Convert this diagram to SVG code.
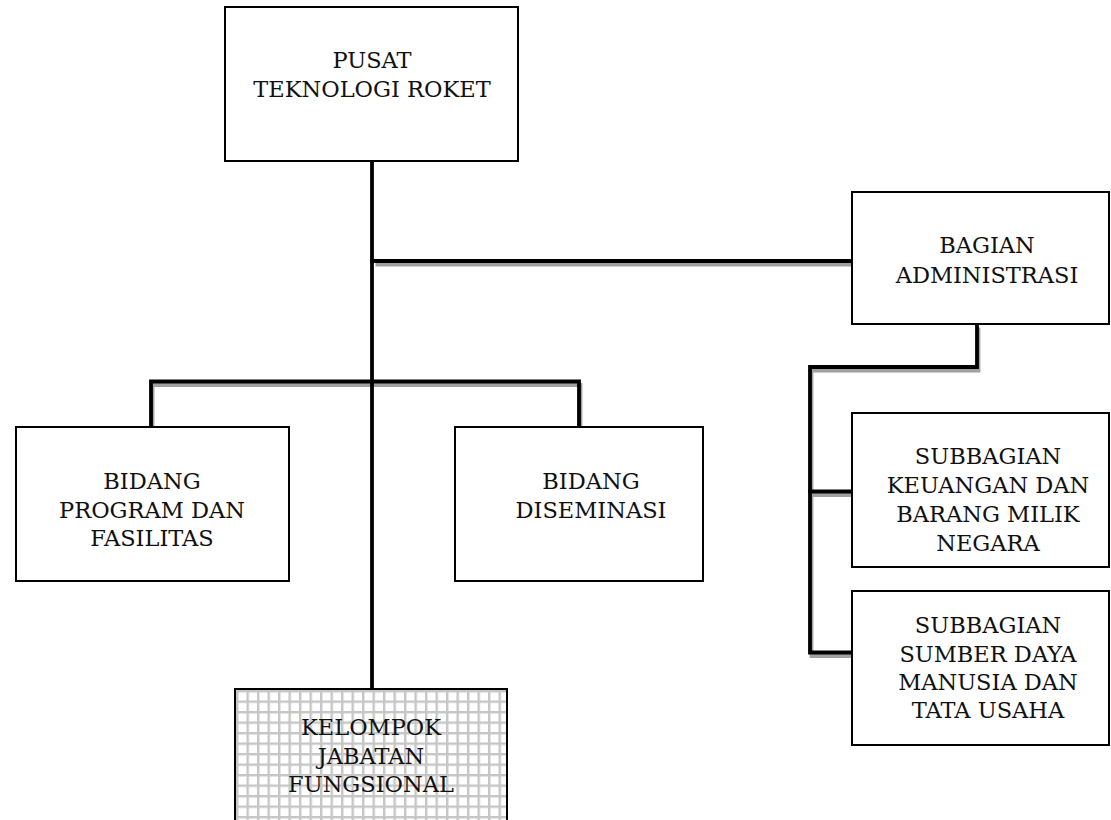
<svg xmlns="http://www.w3.org/2000/svg" width="1111" height="820" viewBox="0 0 1111 820">
  <defs>
    <pattern id="grid" x="236" y="690" width="10.5" height="10.5" patternUnits="userSpaceOnUse">
      <rect width="10.5" height="10.5" fill="#ffffff"/>
      <path d="M0 1.2 H10.5 M1.2 0 V10.5" stroke="#c6c6c6" stroke-width="2.4" fill="none"/>
    </pattern>
  </defs>
  <style>
    .box { fill: #ffffff; stroke: #000000; stroke-width: 2; }
    .lbl { font-family: "DejaVu Serif", "Liberation Serif", serif; font-size: 22.5px; fill: #111111; text-anchor: middle; }
    .conn { fill: none; stroke: #000000; stroke-width: 3.8; stroke-linecap: square; stroke-linejoin: miter; }
    .shadow { fill: none; stroke: #a0a0a0; stroke-width: 3.8; stroke-linecap: butt; stroke-linejoin: miter; }
  </style>

  <g id="connectors">
    <g transform="translate(1.5,3.5)">
      <path class="shadow" d="M374 261 H852"/>
      <path class="shadow" d="M151 427 V381.5 H579 V427"/>
      <path class="shadow" d="M977 324 V367 H810 V652.5 H852"/>
      <path class="shadow" d="M810 491.5 H852"/>
    </g>
    <path class="conn" d="M372 161 V689"/>
    <path class="conn" d="M372 261 H851"/>
    <path class="conn" d="M151 426 V381.5 H579 V426"/>
    <path class="conn" d="M977 325 V367 H810 V652.5 H851"/>
    <path class="conn" d="M810 491.5 H851"/>
  </g>

  <g id="pusat">
    <rect class="box" x="225" y="7" width="293" height="154"/>
    <text class="lbl" x="372" y="68">PUSAT</text>
    <text class="lbl" x="372" y="97">TEKNOLOGI ROKET</text>
  </g>

  <g id="bagian-administrasi">
    <rect class="box" x="852" y="192" width="257" height="132"/>
    <text class="lbl" x="987" y="253">BAGIAN</text>
    <text class="lbl" x="987" y="283">ADMINISTRASI</text>
  </g>

  <g id="bidang-program">
    <rect class="box" x="16" y="427" width="273" height="154"/>
    <text class="lbl" x="152" y="489">BIDANG</text>
    <text class="lbl" x="152" y="517.5">PROGRAM DAN</text>
    <text class="lbl" x="152" y="546">FASILITAS</text>
  </g>

  <g id="bidang-diseminasi">
    <rect class="box" x="455" y="427" width="248" height="154"/>
    <text class="lbl" x="591" y="489">BIDANG</text>
    <text class="lbl" x="591" y="518">DISEMINASI</text>
  </g>

  <g id="subbagian-keuangan">
    <rect class="box" x="852" y="413" width="257" height="154"/>
    <text class="lbl" x="988" y="464">SUBBAGIAN</text>
    <text class="lbl" x="988" y="493">KEUANGAN DAN</text>
    <text class="lbl" x="988" y="522">BARANG MILIK</text>
    <text class="lbl" x="988" y="550.5">NEGARA</text>
  </g>

  <g id="subbagian-sdm">
    <rect class="box" x="852" y="591" width="257" height="154"/>
    <text class="lbl" x="988" y="633">SUBBAGIAN</text>
    <text class="lbl" x="988" y="661.5">SUMBER DAYA</text>
    <text class="lbl" x="988" y="690">MANUSIA DAN</text>
    <text class="lbl" x="988" y="717.5">TATA USAHA</text>
  </g>

  <g id="kelompok-jabatan">
    <rect x="235" y="689" width="272" height="154" fill="url(#grid)" stroke="#000000" stroke-width="2"/>
    <text class="lbl" x="371" y="735">KELOMPOK</text>
    <text class="lbl" x="371" y="763.5">JABATAN</text>
    <text class="lbl" x="371" y="792">FUNGSIONAL</text>
  </g>
</svg>
